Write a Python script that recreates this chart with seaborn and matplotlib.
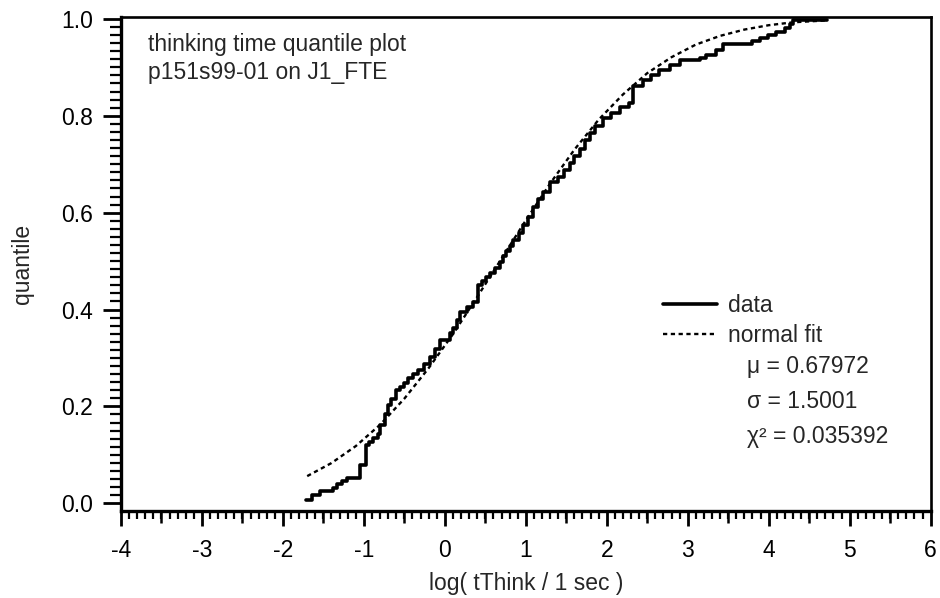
import numpy as np
import pandas as pd
import seaborn as sns
import matplotlib.pyplot as plt
from matplotlib.ticker import MultipleLocator

data_x = [-1.72, -1.645, -1.54, -1.38, -1.33, -1.27, -1.21, -1.05, -0.97, -0.935,
          -0.886, -0.82, -0.80, -0.74, -0.70, -0.66, -0.60, -0.556, -0.50, -0.45,
          -0.39, -0.33, -0.26, -0.185, -0.12, -0.06, 0.06, 0.10, 0.145, 0.185,
          0.27, 0.35, 0.41, 0.46, 0.51, 0.56, 0.62, 0.68, 0.72, 0.76,
          0.80, 0.845, 0.91, 0.97, 1.03, 1.09, 1.15, 1.21, 1.30, 1.40,
          1.47, 1.54, 1.60, 1.67, 1.73, 1.79, 1.85, 1.95, 2.05, 2.16,
          2.28, 2.33, 2.45, 2.55, 2.65, 2.78, 2.90, 3.15, 3.23, 3.35,
          3.43, 3.80, 3.89, 3.99, 4.09, 4.20, 4.26, 4.30, 4.72]
data_q = [0.006, 0.017, 0.025, 0.032, 0.039, 0.046, 0.053, 0.078, 0.120, 0.127,
          0.134, 0.143, 0.161, 0.185, 0.202, 0.216, 0.233, 0.240, 0.249, 0.258,
          0.266, 0.275, 0.288, 0.302, 0.318, 0.337, 0.351, 0.362, 0.378, 0.395,
          0.405, 0.416, 0.450, 0.458, 0.468, 0.476, 0.485, 0.499, 0.510, 0.520,
          0.532, 0.543, 0.558, 0.574, 0.592, 0.612, 0.628, 0.643, 0.664, 0.674,
          0.688, 0.703, 0.716, 0.732, 0.750, 0.764, 0.778, 0.795, 0.806, 0.819,
          0.826, 0.862, 0.874, 0.884, 0.895, 0.905, 0.915, 0.919, 0.926, 0.936,
          0.948, 0.955, 0.960, 0.967, 0.974, 0.981, 0.990, 0.997, 0.997]

# normal fit curve
fit_x = [-1.7, -1.4, -1.1, -0.8, -0.5, -0.2, 0.1, 0.4, 0.7, 1.0, 1.3,
         1.6, 1.9, 2.2, 2.5, 2.8, 3.1, 3.4, 3.7, 4.0, 4.3, 4.72]
fit_q = [0.056, 0.083, 0.118, 0.162, 0.216, 0.279, 0.349, 0.426, 0.505, 0.584, 0.660,
         0.730, 0.792, 0.844, 0.888, 0.921, 0.947, 0.965, 0.978, 0.987, 0.993, 0.997]

title_lines = ["thinking time quantile plot", "p151s99-01 on J1_FTE"]
stats_lines = ["\u03bc = 0.67972", "\u03c3 = 1.5001", "\u03c7\u00b2 = 0.035392"]
half_ticks = [-3.5, -2.5, -1.5, -0.5, 0.5, 1.5, 2.5, 3.5, 4.5, 5.5]

sns.set_style("ticks")
plt.rcParams['font.family'] = ['Liberation Sans', 'DejaVu Sans']
plt.rcParams['axes.unicode_minus'] = False
FS = 16.5

df_data = pd.DataFrame({'x': data_x, 'q': data_q})
df_fit = pd.DataFrame({'x': fit_x, 'q': fit_q})

fig = plt.figure(figsize=(9.4, 5.98), dpi=100)
ax = fig.add_axes([0.1287, 0.1455, 0.8613, 0.8261])

sns.lineplot(data=df_data, x='x', y='q', ax=ax, color='black', linewidth=2.6,
             drawstyle='steps-post', label='data')
sns.lineplot(data=df_fit, x='x', y='q', ax=ax, color='black', linewidth=1.7,
             linestyle=(0, (1.8, 1.5)), label='normal fit')

ax.set_xlim(-4, 6)
ax.set_ylim(-0.016, 1.004)
ax.xaxis.set_major_locator(MultipleLocator(1))
ax.xaxis.set_minor_locator(MultipleLocator(0.1))
ax.yaxis.set_major_locator(MultipleLocator(0.2))
ax.yaxis.set_minor_locator(MultipleLocator(0.2 / 12))
ax.yaxis.set_major_formatter(plt.FormatStrFormatter('%.1f'))

ax.tick_params(axis='x', which='major', direction='out', length=10.5, width=2,
               labelsize=FS, color='black', labelcolor='black', pad=10)
ax.tick_params(axis='x', which='minor', direction='out', length=6, width=1.6,
               color='black')
ax.tick_params(axis='y', which='major', direction='out', length=13, width=2,
               labelsize=FS, color='black', labelcolor='black', pad=7)
ax.tick_params(axis='y', which='minor', direction='out', length=8, width=1.6,
               color='black')

# medium ticks at the half units
sec = ax.secondary_xaxis('bottom')
sec.set_xticks(half_ticks)
sec.tick_params(axis='x', direction='out', length=8.5, width=1.8, color='black',
                labelbottom=False)
sec.spines['bottom'].set_visible(False)

for side in ['left', 'bottom']:
    ax.spines[side].set_linewidth(2.4)
for side in ['top', 'right']:
    ax.spines[side].set_linewidth(1.9)
for s in ax.spines.values():
    s.set_color('black')

ax.set_xlabel('log( tThink / 1 sec )', fontsize=FS, labelpad=7)
ax.set_ylabel('quantile', fontsize=FS, labelpad=20)

ax.text(0.033, 0.931, title_lines[0], transform=ax.transAxes, fontsize=FS, va='baseline')
ax.text(0.033, 0.874, title_lines[1], transform=ax.transAxes, fontsize=FS, va='baseline')

ax.legend(loc='upper left', bbox_to_anchor=(0.669, 0.44), frameon=False, fontsize=FS,
          handlelength=2.36, handletextpad=0.48, labelspacing=0.32, borderpad=0,
          borderaxespad=0)

for txt, yb in zip(stats_lines, [0.279, 0.2085, 0.1377]):
    ax.text(0.773, yb, txt, transform=ax.transAxes, fontsize=FS, va='baseline')

fig.savefig('out.png', dpi=100)
